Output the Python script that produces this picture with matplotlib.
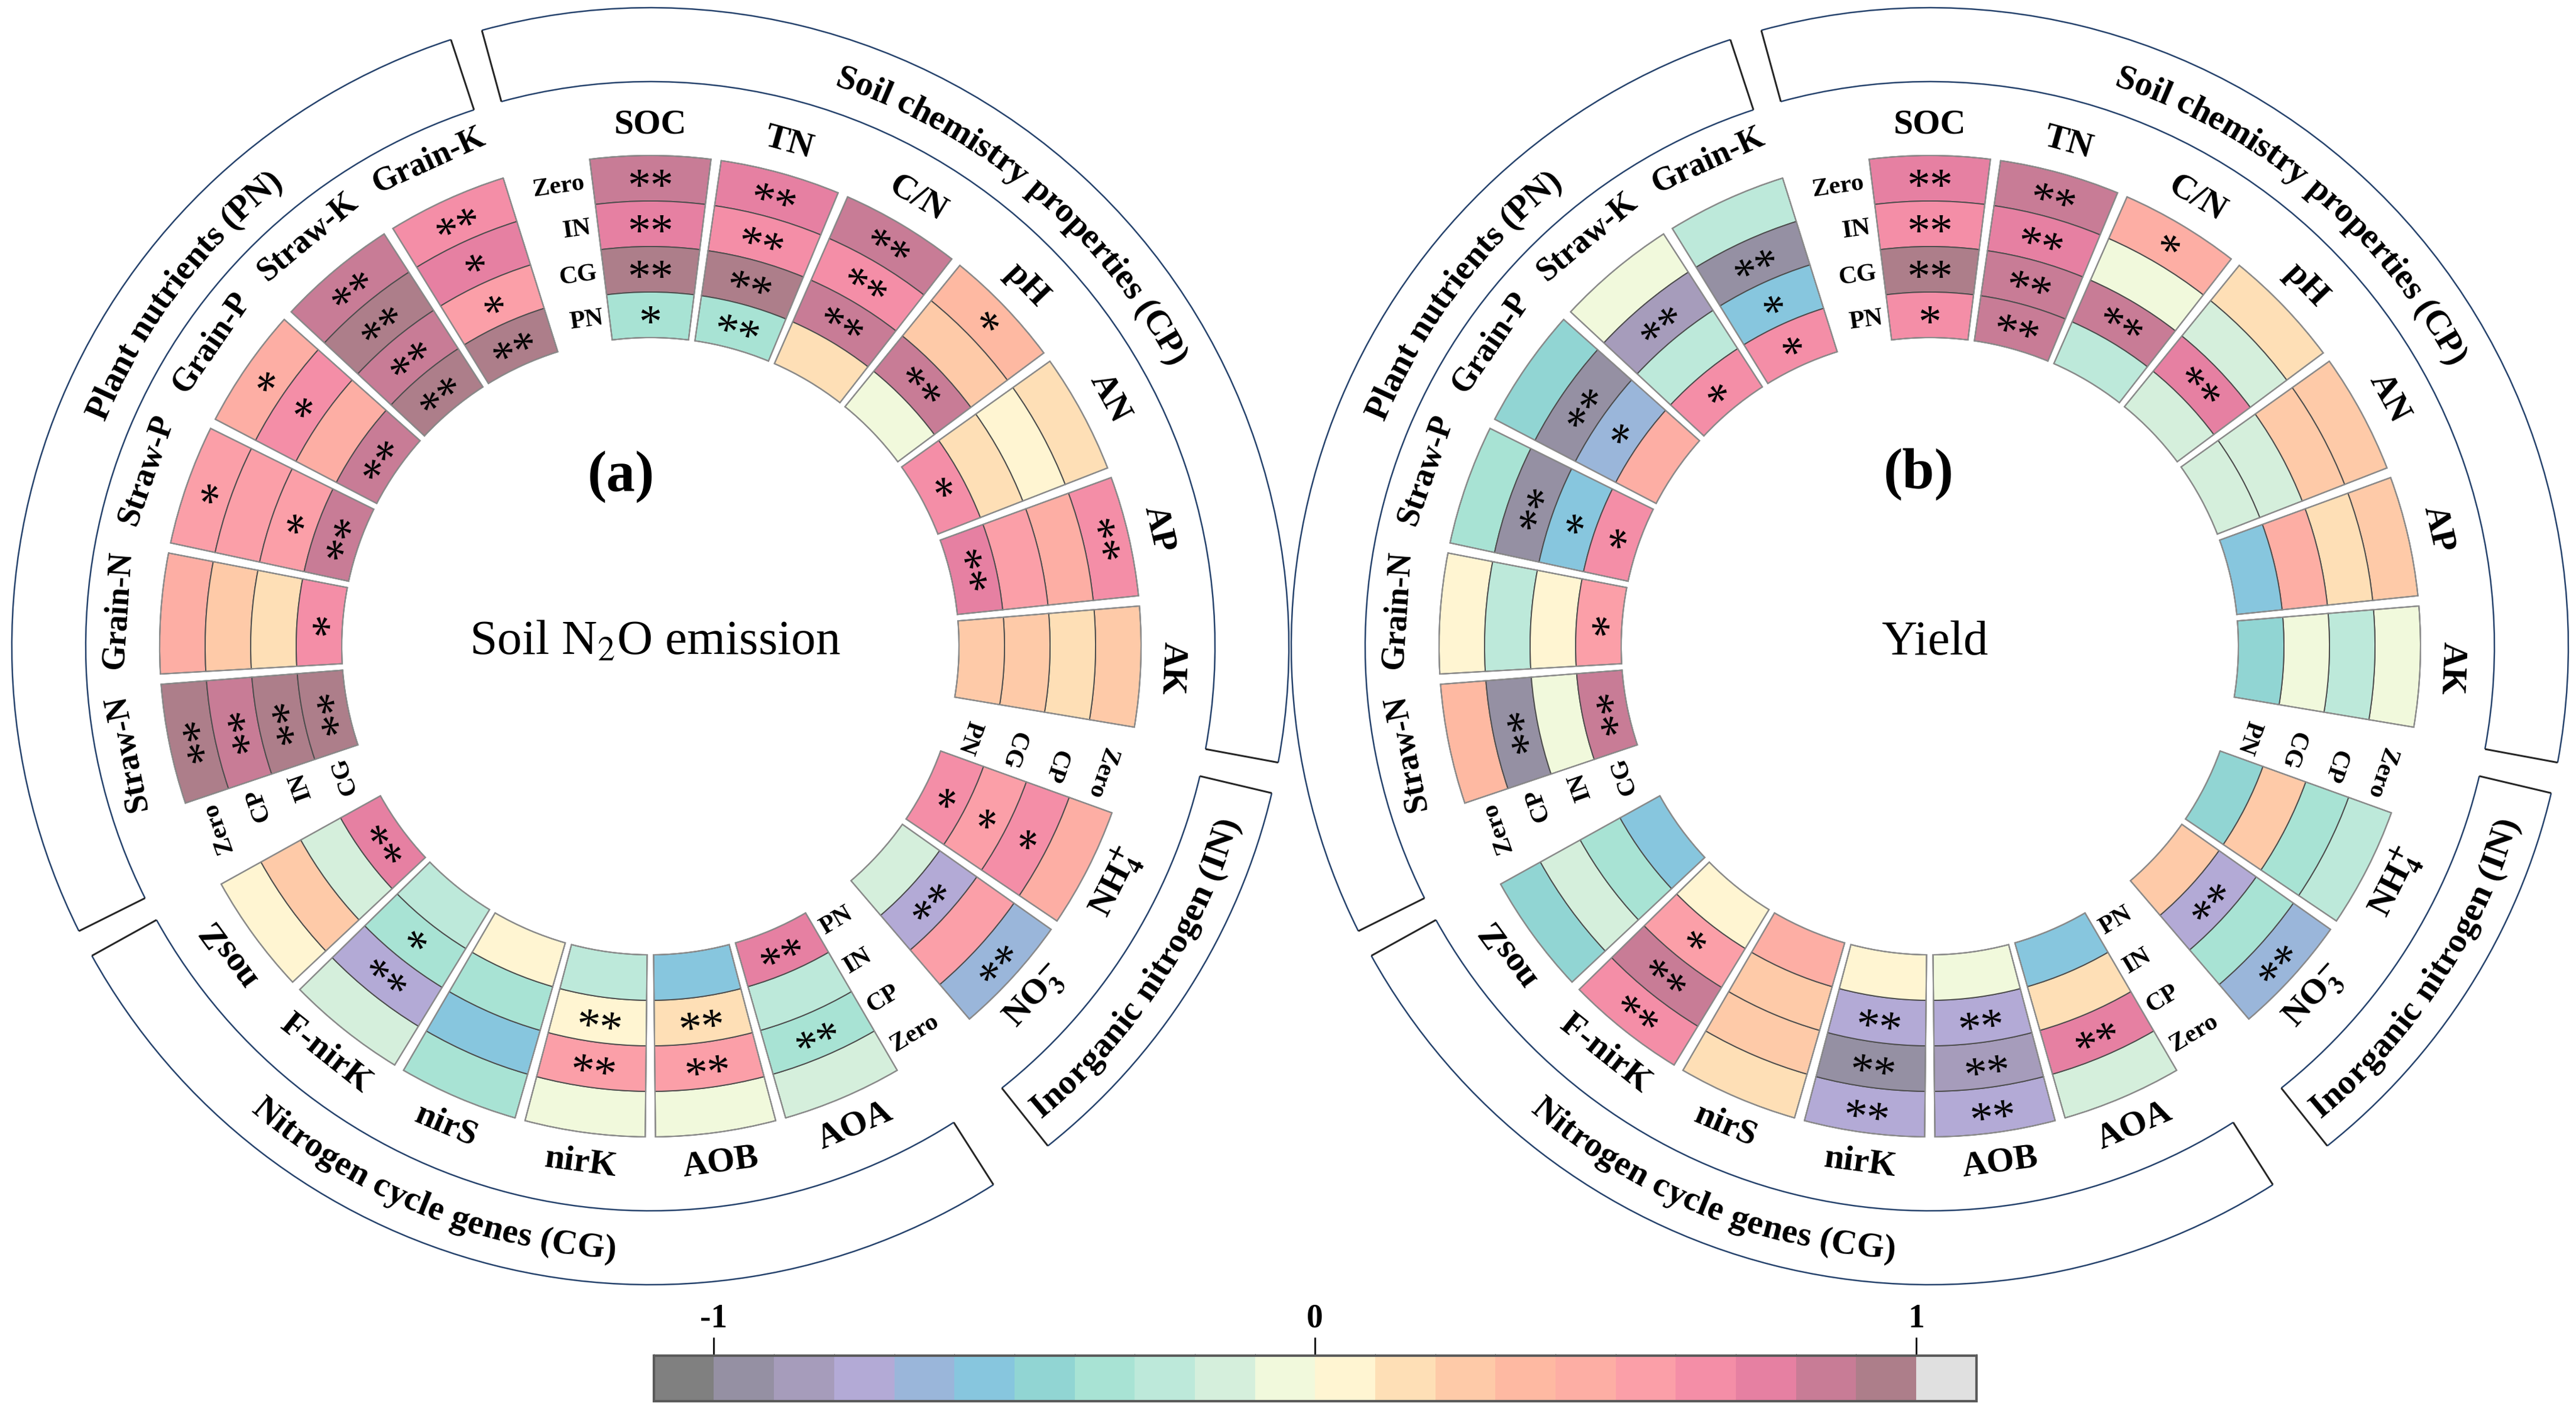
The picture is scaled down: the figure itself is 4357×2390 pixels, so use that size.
import numpy as np
import matplotlib
matplotlib.use('Agg')
import matplotlib.pyplot as plt
from matplotlib.patches import Wedge, Arc
from matplotlib.colors import ListedColormap, BoundaryNorm
from matplotlib.cm import ScalarMappable
from matplotlib.font_manager import FontProperties, findfont
from matplotlib.ft2font import FT2Font
from matplotlib.textpath import TextPath

plt.rcParams['font.family'] = ['Liberation Serif', 'DejaVu Serif']
plt.rcParams['mathtext.fontset'] = 'stix'

######## data

var_names = ['SOC', 'TN', 'C/N', 'pH', 'AN', 'AP', 'AK',
             r'NH$_\mathbf{4}^\mathbf{+}$', r'NO$_\mathbf{3}^\mathbf{-}$',
             'AOA', 'AOB', 'nirK', 'nirS', 'F-nirK', 'nosZ',
             'Straw-N', 'Grain-N', 'Straw-P', 'Grain-P', 'Straw-K', 'Grain-K']
group_of = [0] * 7 + [1] * 2 + [2] * 6 + [3] * 6
group_titles = ['Soil chemistry properties (CP)', 'Inorganic nitrogen (IN)',
                'Nitrogen cycle genes (CG)', 'Plant nutrients (PN)']
# ring labels, outer -> inner
ring_labels = [['Zero', 'IN', 'CG', 'PN'],
               ['Zero', 'CP', 'CG', 'PN'],
               ['Zero', 'CP', 'IN', 'PN'],
               ['Zero', 'CP', 'IN', 'CG']]

# correlation per variable, rings outer -> inner
n2o_r = [[0.85, 0.75, 0.95, -0.35], [0.75, 0.65, 0.95, -0.35], [0.85, 0.65, 0.85, 0.15],
         [0.35, 0.25, 0.85, -0.05], [0.15, 0.05, 0.15, 0.65], [0.65, 0.45, 0.55, 0.75],
         [0.25, 0.15, 0.25, 0.25],
         [0.45, 0.65, 0.55, 0.65], [-0.65, 0.55, -0.75, -0.15],
         [-0.15, -0.35, -0.25, 0.75], [-0.05, 0.55, 0.15, -0.55], [-0.05, 0.55, 0.05, -0.25],
         [-0.35, -0.55, -0.35, 0.05], [-0.15, -0.75, -0.35, -0.25], [0.05, 0.25, -0.15, 0.75],
         [0.95, 0.85, 0.95, 0.95], [0.45, 0.25, 0.15, 0.65], [0.55, 0.55, 0.55, 0.85],
         [0.45, 0.65, 0.45, 0.85], [0.85, 0.95, 0.85, 0.95], [0.65, 0.75, 0.55, 0.95]]
n2o_sig = [['**', '**', '**', '*'], ['**', '**', '**', '**'], ['**', '**', '**', ''],
           ['*', '', '**', ''], ['', '', '', '*'], ['**', '', '', '**'],
           ['', '', '', ''],
           ['', '*', '*', '*'], ['**', '', '**', ''],
           ['', '**', '', '**'], ['', '**', '**', ''], ['', '**', '**', ''],
           ['', '', '', ''], ['', '**', '*', ''], ['', '', '', '**'],
           ['**', '**', '**', '**'], ['', '', '', '*'], ['*', '', '*', '**'],
           ['*', '*', '', '**'], ['**', '**', '**', '**'], ['**', '*', '*', '**']]

yield_r = [[0.75, 0.65, 0.95, 0.65], [0.85, 0.75, 0.85, 0.85], [0.45, -0.05, 0.85, -0.25],
           [0.15, -0.15, 0.75, -0.15], [0.25, 0.25, -0.15, -0.15], [0.25, 0.15, 0.45, -0.55],
           [-0.05, -0.25, -0.05, -0.45],
           [-0.25, -0.35, 0.25, -0.45], [-0.65, -0.35, -0.75, 0.25],
           [-0.15, 0.75, 0.15, -0.55], [-0.75, -0.85, -0.75, -0.05], [-0.75, -0.95, -0.75, 0.05],
           [0.15, 0.25, 0.25, 0.45], [0.65, 0.85, 0.55, 0.05], [-0.45, -0.15, -0.35, -0.55],
           [0.35, -0.95, -0.05, 0.85], [0.05, -0.25, 0.05, 0.55], [-0.35, -0.95, -0.55, 0.65],
           [-0.45, -0.95, -0.65, 0.45], [-0.05, -0.85, -0.25, 0.65], [-0.25, -0.95, -0.55, 0.65]]
yield_sig = [['**', '**', '**', '*'], ['**', '**', '**', '**'], ['*', '', '**', ''],
             ['', '', '**', ''], ['', '', '', ''], ['', '', '', ''],
             ['', '', '', ''],
             ['', '', '', ''], ['**', '', '**', ''],
             ['', '**', '', ''], ['**', '**', '**', ''], ['**', '**', '**', ''],
             ['', '', '', ''], ['**', '**', '*', ''], ['', '', '', ''],
             ['', '**', '', '**'], ['', '', '', '*'], ['', '**', '*', '*'],
             ['', '**', '*', ''], ['', '**', '', '*'], ['', '**', '*', '*']]

cbar_colors = ['#808080', '#9590a3', '#a69cbb', '#b3aad6', '#9ab6da', '#87c6de',
               '#91d5d3', '#a8e3d4', '#bde9da', '#d5efdc', '#f1f9dc', '#fff5d2',
               '#fedfb6', '#fecaa8', '#feb9a2', '#fdaea4', '#fb9fa8', '#f48ea7',
               '#e680a2', '#c87c96', '#ad7e8a', '#e0e0e0']
cbar_bounds = np.linspace(-1.1, 1.1, 23)

########

cmap = ListedColormap(cbar_colors)
norm = BoundaryNorm(cbar_bounds, cmap.N)

W, H = 4357, 2390
fig = plt.figure(figsize=(W / 100, H / 100), dpi=100)
ax = fig.add_axes([0, 0, 1, 1])
ax.set_xlim(0, W)
ax.set_ylim(0, H)
ax.axis('off')

PX = 100 / 72  # px per point
r_in, r_out = 522, 830
ring_w = (r_out - r_in) / 4
sec_w = 14.2
step, gap_step = 15.4, 24.55

angles = []
a = 90.0
for k in range(len(var_names)):
    angles.append(a)
    last = k == len(var_names) - 1 or group_of[k + 1] != group_of[k]
    a -= gap_step if last else step

bracket_span = [(-10.5, 105.3), (-51.5, -13.3), (-151.0, -57.5), (108.2, 206.5)]
title_angle = [50, -33.5, -112, 143]
br_in, br_out = 955, 1080
label_size = [43, 43, 43, 40]
label_r = [882, 882, 882, 903]

star_fp = FontProperties(family='Liberation Serif', size=56)
ext = TextPath((0, 0), '*', prop=star_fp).get_extents()
star_mid = (ext.y0 + ext.y1) / 2 * PX


def norm_ang(t):
    return (t + 180) % 360 - 180


def rot_of(t):
    t = norm_ang(t)
    if -140 < t < -20:
        return t + 90, True
    return t - 90, False


def pol(cx, cy, r, t):
    return cx + r * np.cos(np.radians(t)), cy + r * np.sin(np.radians(t))


def arc_text(cx, cy, s, tc, r, fs, ccw):
    fp = FontProperties(family='Liberation Serif', weight='bold', size=fs)
    font = FT2Font(findfont(fp))
    font.set_size(fs, 72)
    advs = [font.load_char(ord(ch)).linearHoriAdvance / 65536 * PX for ch in s]
    tot = np.degrees(sum(advs) / r)
    cum = 0
    cap = 0.33 * fs * PX
    for ch, adv in zip(s, advs):
        d = np.degrees((cum + adv / 2) / r)
        cum += adv
        if ch == ' ':
            continue
        if ccw:
            t = tc - tot / 2 + d
            x, y = pol(cx, cy, r + cap, t)
            rot = t + 90
        else:
            t = tc + tot / 2 - d
            x, y = pol(cx, cy, r - cap, t)
            rot = t - 90
        ax.text(x, y, ch, rotation=rot, rotation_mode='anchor', ha='center',
                va='baseline', fontproperties=fp)


def draw_panel(cx, cy, vals, sigs, centre, tag, tag_xy):
    for k, name in enumerate(var_names):
        th = angles[k]
        t1, t2 = th - sec_w / 2, th + sec_w / 2
        rot, flip = rot_of(th)
        for i in range(4):
            ro = r_out - i * ring_w
            ax.add_patch(Wedge((cx, cy), ro, t1, t2, width=ring_w,
                               facecolor=cmap(norm(vals[k][i])), edgecolor='#4d4d4d', lw=1.4))
            if sigs[k][i]:
                x, y = pol(cx, cy, ro - ring_w / 2, th)
                up = np.radians(rot + 90)
                ax.text(x - star_mid * np.cos(up), y - star_mid * np.sin(up), sigs[k][i],
                        rotation=rot, rotation_mode='anchor', ha='center', va='baseline',
                        fontproperties=star_fp)
        ax.add_patch(Wedge((cx, cy), r_out, t1, t2, width=r_out - r_in, fill=False,
                           edgecolor='#8c8c8c', lw=1.6))
        g = group_of[k]
        x, y = pol(cx, cy, label_r[g], th)
        ax.text(x, y, name, rotation=rot, rotation_mode='anchor', ha='center', va='center',
                fontsize=label_size[g], fontweight='bold')

    # ring labels in front of the first sector of each group
    for g in range(4):
        k0 = group_of.index(g)
        te = angles[k0] + sec_w / 2 + 1.0
        rot, flip = rot_of(te)
        for i, lab in enumerate(ring_labels[g]):
            x, y = pol(cx, cy, r_out - (i + 0.5) * ring_w, te)
            ax.text(x, y, lab, rotation=rot, rotation_mode='anchor',
                    ha='left' if flip else 'right', va='center', fontsize=31, fontweight='bold')

        # bracket
        b1, b2 = bracket_span[g]
        for rr in (br_in, br_out):
            ax.add_patch(Arc((cx, cy), 2 * rr, 2 * rr, theta1=b1, theta2=b2,
                             color='#26436d', lw=1.8))
        for bt in (b1, b2):
            xa, ya = pol(cx, cy, br_in, bt)
            xb, yb = pol(cx, cy, br_out, bt)
            ax.plot([xa, xb], [ya, yb], color='#262626', lw=2.2, solid_capstyle='butt')
        arc_text(cx, cy, group_titles[g], title_angle[g], (br_in + br_out) / 2, 43,
                 ccw=g in (1, 2))

    ax.text(cx + 8, cy + 6, centre, ha='center', va='center', fontsize=60)
    ax.text(tag_xy[0], tag_xy[1], tag, ha='center', va='center', fontsize=70, fontweight='bold')


cy = 1297
draw_panel(1100, cy, n2o_r, n2o_sig, r'Soil N$_2$O emission', '(a)', (1050, 1583))
draw_panel(3264, cy, yield_r, yield_sig, 'Yield', '(b)', (3245, 1588))

cax = fig.add_axes([0.2538, 0.0084, 0.5134, 0.0322])
cb = fig.colorbar(ScalarMappable(norm=norm, cmap=cmap), cax=cax, orientation='horizontal',
                  ticks=[-1, 0, 1])
cb.set_ticklabels(['-1', '0', '1'])
cax.xaxis.set_ticks_position('top')
cax.tick_params(axis='x', length=22, width=2, labelsize=40, pad=4)
for t in cax.get_xticklabels():
    t.set_fontweight('bold')
cb.outline.set_edgecolor('#5a5a5a')
cb.outline.set_linewidth(3)

fig.savefig('out.png', dpi=100)
